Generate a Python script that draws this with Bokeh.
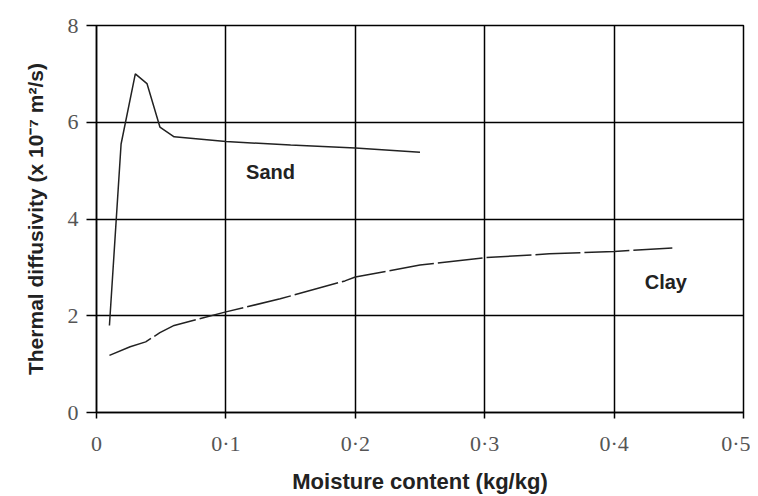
from bokeh.plotting import figure
from bokeh.models import Label, FixedTicker
from bokeh.embed import file_html
from bokeh.resources import INLINE

sand_x = [0.01, 0.019, 0.030, 0.039, 0.049, 0.060, 0.100, 0.150, 0.200, 0.250]
sand_y = [1.80, 5.55, 7.00, 6.80, 5.90, 5.70, 5.60, 5.53, 5.47, 5.38]

clay_x = [0.01, 0.026, 0.038, 0.049, 0.060, 0.100, 0.142, 0.192, 0.200, 0.250, 0.300, 0.350, 0.400, 0.445]
clay_y = [1.18, 1.36, 1.46, 1.65, 1.80, 2.08, 2.35, 2.72, 2.80, 3.05, 3.20, 3.28, 3.33, 3.40]

x_ticks = [0, 0.1, 0.2, 0.3, 0.4, 0.5]
x_tick_labels = ["0", "0·1", "0·2", "0·3", "0·4", "0·5"]
y_ticks = [0, 2, 4, 6, 8]

p = figure(width=750, height=496, x_range=(0, 0.5), y_range=(0, 8),
           output_backend="svg", toolbar_location=None,
           min_border_left=96, min_border_right=7, min_border_top=25, min_border_bottom=82)

p.line(sand_x, sand_y, line_color="#222222", line_width=1.5)
p.line(clay_x, clay_y, line_color="#222222", line_width=1.5, line_dash="45 4")

p.add_layout(Label(x=0.1345, y=4.98, text="Sand", text_align="center", text_baseline="middle",
                   text_font="Liberation Sans", text_font_style="bold", text_font_size="20px",
                   text_color="#222222"))
p.add_layout(Label(x=0.440, y=2.70, text="Clay", text_align="center", text_baseline="middle",
                   text_font="Liberation Sans", text_font_style="bold", text_font_size="20px",
                   text_color="#222222"))

p.xaxis.ticker = FixedTicker(ticks=x_ticks)
p.yaxis.ticker = FixedTicker(ticks=y_ticks)
p.xaxis.major_label_overrides = {t: l for t, l in zip(x_ticks, x_tick_labels)}
p.xgrid.ticker = FixedTicker(ticks=x_ticks)
p.ygrid.ticker = FixedTicker(ticks=y_ticks)

for g in (p.xgrid, p.ygrid):
    g.grid_line_color = "black"
    g.grid_line_width = 1.5
    g.grid_line_alpha = 1.0

p.outline_line_color = "black"
p.outline_line_width = 1.5

for ax in (p.xaxis, p.yaxis):
    ax.axis_line_color = "black"
    ax.axis_line_width = 1.5
    ax.major_tick_line_color = "black"
    ax.major_tick_line_width = 1.5
    ax.minor_tick_line_color = None
    ax.major_tick_in = 0
    ax.major_label_text_font = "Liberation Serif"
    ax.major_label_text_font_size = "22px"
    ax.major_label_text_color = "#555555"
    ax.axis_label_text_font = "Liberation Sans"
    ax.axis_label_text_font_style = "bold"
    ax.axis_label_text_color = "#222222"

p.xaxis.axis_label_text_font_size = "22px"
p.yaxis.axis_label_text_font_size = "21px"
p.xaxis.major_tick_out = 6
p.yaxis.major_tick_out = 10
p.xaxis.major_label_standoff = 12
p.yaxis.major_label_standoff = 8
p.xaxis.axis_label = "Moisture content (kg/kg)"
p.yaxis.axis_label = "Thermal diffusivity (x 10⁻⁷ m²/s)"
p.xaxis.axis_label_standoff = 10
p.yaxis.axis_label_standoff = 18

open("out.html", "w").write(file_html(p, INLINE))
